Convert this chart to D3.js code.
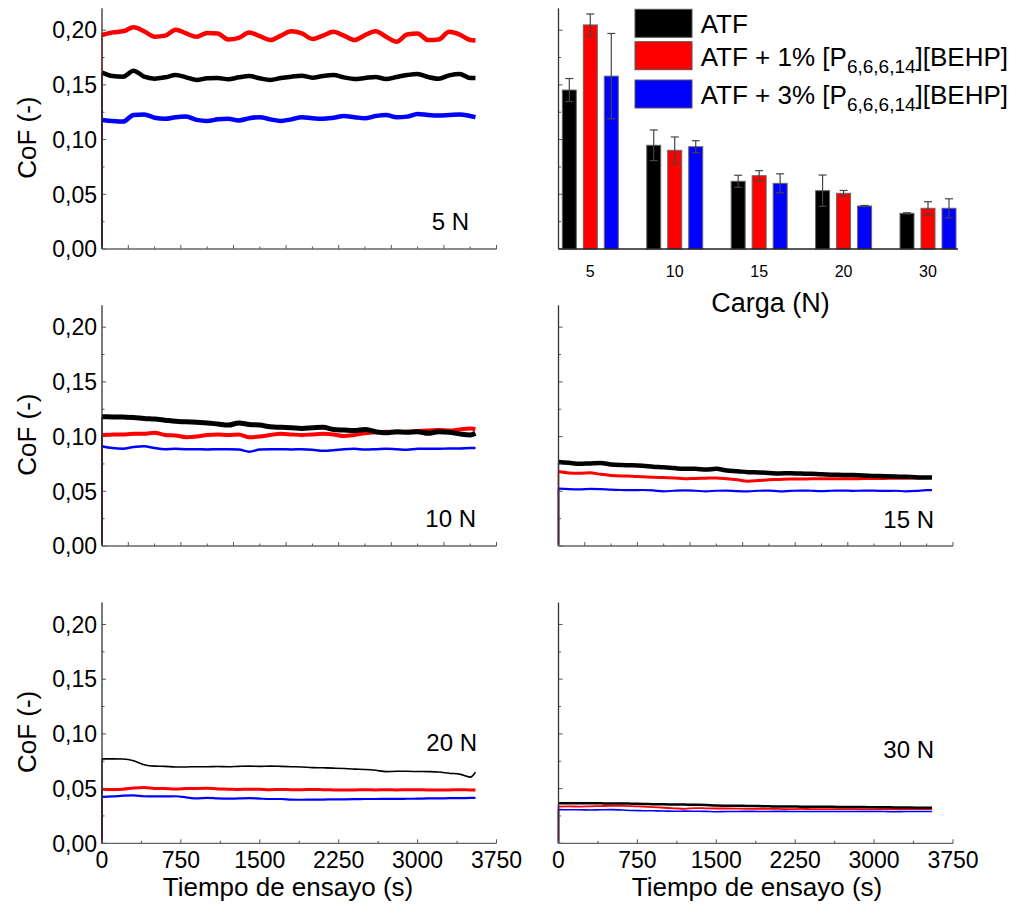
<!DOCTYPE html>
<html>
<head>
<meta charset="utf-8">
<script src="https://cdn.jsdelivr.net/npm/d3@7"></script>
<style>
  html, body { margin: 0; padding: 0; background: #fff; }
  svg text { font-family: "Liberation Sans", Arial, sans-serif; fill: #000; }
</style>
</head>
<body>
<svg id="chart" width="1013" height="916"></svg>
<script>
// Sampling instants of the friction records (s)
const sampleTimes = [0, 100, 200, 300, 400, 500, 600, 700, 800, 900, 1000, 1100, 1200, 1300, 1400, 1500, 1600, 1700, 1800, 1900, 2000, 2100, 2200, 2300, 2400, 2500, 2600, 2700, 2800, 2900, 3000, 3100, 3200, 3300, 3400, 3500, 3550];

// Coefficient of friction vs time, one array per lubricant and load
const cof5N_ATF  = [0.1612, 0.1581, 0.1575, 0.1630, 0.1575, 0.1557, 0.1569, 0.1590, 0.1569, 0.1545, 0.1560, 0.1563, 0.1551, 0.1569, 0.1581, 0.1560, 0.1545, 0.1563, 0.1575, 0.1584, 0.1566, 0.1581, 0.1590, 0.1569, 0.1554, 0.1563, 0.1572, 0.1554, 0.1572, 0.1590, 0.1600, 0.1572, 0.1557, 0.1587, 0.1600, 0.1563, 0.1563];
const cof5N_IL1  = [0.1956, 0.1980, 0.1990, 0.2026, 0.1990, 0.1940, 0.1950, 0.2005, 0.1970, 0.1940, 0.1975, 0.1970, 0.1915, 0.1930, 0.1978, 0.1945, 0.1910, 0.1950, 0.1990, 0.1970, 0.1920, 0.1950, 0.1985, 0.1950, 0.1910, 0.1955, 0.1990, 0.1940, 0.1895, 0.1960, 0.1970, 0.1910, 0.1915, 0.1985, 0.1960, 0.1910, 0.1905];
const cof5N_IL3  = [0.1180, 0.1170, 0.1165, 0.1225, 0.1230, 0.1200, 0.1190, 0.1205, 0.1210, 0.1180, 0.1170, 0.1185, 0.1190, 0.1175, 0.1195, 0.1205, 0.1185, 0.1170, 0.1185, 0.1205, 0.1195, 0.1190, 0.1200, 0.1215, 0.1205, 0.1195, 0.1215, 0.1225, 0.1205, 0.1210, 0.1235, 0.1225, 0.1220, 0.1225, 0.1230, 0.1215, 0.1205];

const cof10N_ATF = [0.1182, 0.1180, 0.1178, 0.1175, 0.1165, 0.1160, 0.1150, 0.1140, 0.1135, 0.1130, 0.1125, 0.1115, 0.1105, 0.1125, 0.1110, 0.1105, 0.1090, 0.1085, 0.1080, 0.1075, 0.1080, 0.1085, 0.1065, 0.1060, 0.1055, 0.1065, 0.1045, 0.1035, 0.1045, 0.1040, 0.1045, 0.1030, 0.1045, 0.1040, 0.1025, 0.1015, 0.1030];
const cof10N_IL1 = [0.1015, 0.1018, 0.1020, 0.1025, 0.1025, 0.1035, 0.1015, 0.1010, 0.0995, 0.1000, 0.1015, 0.1020, 0.1015, 0.1020, 0.0995, 0.1000, 0.1015, 0.1025, 0.1020, 0.1015, 0.1020, 0.1025, 0.1020, 0.1005, 0.1015, 0.1030, 0.1040, 0.1045, 0.1040, 0.1045, 0.1050, 0.1055, 0.1060, 0.1055, 0.1065, 0.1075, 0.1070];
const cof10N_IL3 = [0.0912, 0.0895, 0.0890, 0.0905, 0.0912, 0.0895, 0.0885, 0.0888, 0.0885, 0.0885, 0.0882, 0.0885, 0.0885, 0.0882, 0.0862, 0.0882, 0.0885, 0.0885, 0.0883, 0.0885, 0.0880, 0.0870, 0.0875, 0.0885, 0.0888, 0.0882, 0.0885, 0.0890, 0.0885, 0.0880, 0.0888, 0.0890, 0.0888, 0.0892, 0.0892, 0.0895, 0.0895];

const cof15N_ATF = [0.0768, 0.0760, 0.0752, 0.0755, 0.0758, 0.0745, 0.0740, 0.0738, 0.0733, 0.0725, 0.0720, 0.0712, 0.0705, 0.0705, 0.0700, 0.0705, 0.0690, 0.0683, 0.0675, 0.0672, 0.0668, 0.0663, 0.0665, 0.0662, 0.0660, 0.0655, 0.0652, 0.0650, 0.0648, 0.0645, 0.0640, 0.0638, 0.0635, 0.0632, 0.0628, 0.0625, 0.0625];
const cof15N_IL1 = [0.0680, 0.0668, 0.0665, 0.0670, 0.0655, 0.0645, 0.0640, 0.0638, 0.0632, 0.0628, 0.0625, 0.0622, 0.0615, 0.0618, 0.0620, 0.0622, 0.0615, 0.0605, 0.0592, 0.0598, 0.0605, 0.0608, 0.0612, 0.0612, 0.0615, 0.0615, 0.0615, 0.0614, 0.0615, 0.0616, 0.0617, 0.0618, 0.0620, 0.0620, 0.0622, 0.0625, 0.0625];
const cof15N_IL3 = [0.0525, 0.0520, 0.0518, 0.0522, 0.0520, 0.0515, 0.0512, 0.0510, 0.0512, 0.0508, 0.0500, 0.0505, 0.0508, 0.0505, 0.0500, 0.0505, 0.0507, 0.0502, 0.0500, 0.0505, 0.0507, 0.0500, 0.0503, 0.0507, 0.0505, 0.0502, 0.0505, 0.0507, 0.0504, 0.0506, 0.0506, 0.0503, 0.0505, 0.0500, 0.0503, 0.0510, 0.0510];

const cof20N_ATF = [0.0772, 0.0772, 0.0770, 0.0755, 0.0718, 0.0705, 0.0703, 0.0698, 0.0698, 0.0700, 0.0700, 0.0702, 0.0700, 0.0703, 0.0705, 0.0703, 0.0705, 0.0703, 0.0700, 0.0697, 0.0692, 0.0690, 0.0687, 0.0683, 0.0678, 0.0675, 0.0668, 0.0655, 0.0658, 0.0658, 0.0656, 0.0655, 0.0652, 0.0640, 0.0632, 0.0605, 0.0650];
const cof20N_IL1 = [0.0495, 0.0492, 0.0495, 0.0505, 0.0510, 0.0502, 0.0500, 0.0497, 0.0500, 0.0502, 0.0503, 0.0497, 0.0495, 0.0492, 0.0495, 0.0493, 0.0490, 0.0492, 0.0490, 0.0490, 0.0492, 0.0490, 0.0488, 0.0487, 0.0488, 0.0490, 0.0488, 0.0490, 0.0488, 0.0490, 0.0489, 0.0488, 0.0487, 0.0488, 0.0490, 0.0488, 0.0487];
const cof20N_IL3 = [0.0425, 0.0428, 0.0435, 0.0438, 0.0430, 0.0428, 0.0428, 0.0430, 0.0420, 0.0410, 0.0415, 0.0410, 0.0408, 0.0410, 0.0412, 0.0408, 0.0405, 0.0405, 0.0400, 0.0398, 0.0400, 0.0400, 0.0402, 0.0402, 0.0403, 0.0405, 0.0405, 0.0406, 0.0406, 0.0407, 0.0408, 0.0410, 0.0410, 0.0412, 0.0412, 0.0415, 0.0415];

const cof30N_ATF = [0.0365, 0.0366, 0.0365, 0.0366, 0.0365, 0.0364, 0.0364, 0.0362, 0.0360, 0.0358, 0.0356, 0.0355, 0.0354, 0.0352, 0.0350, 0.0345, 0.0344, 0.0343, 0.0342, 0.0340, 0.0338, 0.0336, 0.0336, 0.0335, 0.0334, 0.0333, 0.0333, 0.0332, 0.0332, 0.0331, 0.0330, 0.0329, 0.0328, 0.0327, 0.0326, 0.0326, 0.0326];
const cof30N_IL1 = [0.0335, 0.0338, 0.0335, 0.0338, 0.0340, 0.0342, 0.0342, 0.0340, 0.0335, 0.0330, 0.0325, 0.0320, 0.0315, 0.0322, 0.0320, 0.0318, 0.0318, 0.0317, 0.0315, 0.0316, 0.0315, 0.0314, 0.0312, 0.0314, 0.0313, 0.0312, 0.0313, 0.0312, 0.0312, 0.0311, 0.0310, 0.0312, 0.0311, 0.0312, 0.0313, 0.0313, 0.0313];
const cof30N_IL3 = [0.0308, 0.0306, 0.0307, 0.0304, 0.0306, 0.0308, 0.0305, 0.0300, 0.0298, 0.0297, 0.0295, 0.0293, 0.0294, 0.0293, 0.0292, 0.0288, 0.0291, 0.0291, 0.0292, 0.0291, 0.0291, 0.0292, 0.0291, 0.0290, 0.0290, 0.0291, 0.0290, 0.0290, 0.0290, 0.0290, 0.0291, 0.0290, 0.0289, 0.0290, 0.0290, 0.0291, 0.0291];

// Mean CoF per load with standard deviation
const loads   = ["5", "10", "15", "20", "30"];
const meanATF = [0.1453, 0.0948, 0.0619, 0.0533, 0.0326];
const meanIL1 = [0.2048, 0.0902, 0.0670, 0.0509, 0.0372];
const meanIL3 = [0.1580, 0.0935, 0.0600, 0.0393, 0.0372];
const sdATF   = [0.0105, 0.0140, 0.0055, 0.0143, 0.0005];
const sdIL1   = [0.0100, 0.0122, 0.0046, 0.0026, 0.0060];
const sdIL3   = [0.0390, 0.0055, 0.0087, 0.0005, 0.0087];

// Axis ticks
const cofTicks       = [0, 0.05, 0.10, 0.15, 0.20];
const cofMinorTicks  = [0, 0.025, 0.05, 0.075, 0.10, 0.125, 0.15, 0.175, 0.20];
const timeTicksFine  = [0, 250, 500, 750, 1000, 1250, 1500, 1750, 2000, 2250, 2500, 2750, 3000, 3250, 3500, 3750];
const timeTicksLabel = [0, 750, 1500, 2250, 3000, 3750];
const timeTicksMinor = [0, 375, 750, 1125, 1500, 1875, 2250, 2625, 3000, 3375, 3750];

const seriesNames = ["ATF", "ATF + 1% [P6,6,6,14][BEHP]", "ATF + 3% [P6,6,6,14][BEHP]"];
const colors = ["#000000", "#ff0000", "#0000ff"];

// ---------------- layout ----------------
const svg = d3.select("#chart");
const colX = [102, 558.5];
const plotW = 394.5;
const rowBottom = [249, 546, 843.3];
const plotH = 240.7;
const cofMax = 0.22;
const timeMax = 3750;

const fmtCoF = v => d3.format(".2f")(v).replace(".", ",");

function makeScales(col, row) {
  const x = d3.scaleLinear().domain([0, timeMax]).range([colX[col], colX[col] + plotW]);
  const y = d3.scaleLinear().domain([0, cofMax]).range([rowBottom[row], rowBottom[row] - plotH]);
  return { x, y };
}

function drawYAxis(g, y, x0, withLabels) {
  // inward ticks, longer at the labelled values
  g.append("g").selectAll("line").data(cofMinorTicks).join("line")
    .attr("x1", x0).attr("x2", d => x0 + (cofTicks.some(t => Math.abs(t - d) < 1e-9) ? 4 : 2.5))
    .attr("y1", d => y(d)).attr("y2", d => y(d))
    .attr("stroke", "#555").attr("stroke-width", 1);
  g.append("line")
    .attr("x1", x0).attr("x2", x0)
    .attr("y1", y(0)).attr("y2", y(cofMax))
    .attr("stroke", "#333").attr("stroke-width", 1.3);
  if (withLabels) {
    g.append("g").selectAll("text").data(cofTicks).join("text")
      .attr("x", x0 - 5).attr("y", d => y(d))
      .attr("dy", "0.36em")
      .attr("text-anchor", "end")
      .style("font-size", "23px")
      .text(fmtCoF);
  }
}

function drawTimeAxis(g, x, y0, labelled) {
  const ticks = labelled ? timeTicksMinor : timeTicksFine;
  g.append("line")
    .attr("x1", x(0)).attr("x2", x(timeMax))
    .attr("y1", y0).attr("y2", y0)
    .attr("stroke", "#666").attr("stroke-width", 1.3);
  g.append("g").selectAll("line").data(ticks).join("line")
    .attr("x1", d => x(d)).attr("x2", d => x(d))
    .attr("y1", y0).attr("y2", (d, i) => y0 - (labelled ? (timeTicksLabel.includes(d) ? 4 : 2.5) : (i % 2 === 0 ? 2.5 : 4)))
    .attr("stroke", "#555").attr("stroke-width", 1);
  if (labelled) {
    g.append("g").selectAll("text").data(timeTicksLabel).join("text")
      .attr("x", d => x(d)).attr("y", y0 + 25)
      .attr("text-anchor", "middle")
      .style("font-size", "23px")
      .text(d => d);
  }
}

// Time-series panels
const panels = [
  { col: 0, row: 0, label: "5 N",  labelX: 469, labelY: 230,   data: [cof5N_ATF,  cof5N_IL1,  cof5N_IL3],  widths: [4.5, 4.5, 4.5] },
  { col: 0, row: 1, label: "10 N", labelX: 476, labelY: 527.3, data: [cof10N_ATF, cof10N_IL1, cof10N_IL3], widths: [5, 4, 2.5] },
  { col: 1, row: 1, label: "15 N", labelX: 934, labelY: 528.3, data: [cof15N_ATF, cof15N_IL1, cof15N_IL3], widths: [4.5, 3, 2.2] },
  { col: 0, row: 2, label: "20 N", labelX: 477, labelY: 751,   data: [cof20N_ATF, cof20N_IL1, cof20N_IL3], widths: [1.6, 3, 2.2] },
  { col: 1, row: 2, label: "30 N", labelX: 934, labelY: 758.3, data: [cof30N_ATF, cof30N_IL1, cof30N_IL3], widths: [2.5, 1.8, 1.6] }
];

// draw order: red, blue, then black on top
const drawOrder = [1, 2, 0];

panels.forEach(p => {
  const { x, y } = makeScales(p.col, p.row);
  const g = svg.append("g");
  const line = d3.line()
    .x(d => x(d.t)).y(d => y(d.v))
    .curve(d3.curveMonotoneX);

  // run-in: each record rises from zero at t = 0
  drawOrder.forEach(si => {
    g.append("line")
      .attr("x1", x(0)).attr("x2", x(0))
      .attr("y1", y(0)).attr("y2", y(p.data[si][0]))
      .attr("stroke", colors[si]).attr("stroke-width", 1.3);
  });
  g.append("line")
    .attr("x1", x(0)).attr("x2", x(0))
    .attr("y1", y(0)).attr("y2", y(d3.min(p.data, s => s[0])))
    .attr("stroke", "#5a0f33").attr("stroke-width", 1.4);

  drawOrder.forEach(si => {
    const pts = sampleTimes.map((t, i) => ({ t, v: p.data[si][i] }));
    g.append("path")
      .attr("d", line(pts))
      .attr("fill", "none")
      .attr("stroke", colors[si])
      .attr("stroke-width", p.widths[si])
      .attr("stroke-linejoin", "round");
  });

  drawYAxis(g, y, colX[p.col], p.col === 0);
  drawTimeAxis(g, x, rowBottom[p.row], p.row === 2);

  g.append("text")
    .attr("x", p.labelX).attr("y", p.labelY)
    .attr("text-anchor", "end")
    .style("font-size", "24px")
    .text(p.label);
});

// CoF axis titles
rowBottom.forEach(b => {
  svg.append("text")
    .attr("transform", `translate(35.5,${b - plotH / 2 + 9}) rotate(-90)`)
    .attr("text-anchor", "middle")
    .style("font-size", "26px")
    .text("CoF (-)");
});

// Time axis titles
[[288, 896], [757, 896]].forEach(([cx, cy]) => {
  svg.append("text")
    .attr("x", cx).attr("y", cy)
    .attr("text-anchor", "middle")
    .style("font-size", "26px")
    .text("Tiempo de ensayo (s)");
});

// ---------------- bar chart: mean CoF per load ----------------
{
  const x0 = colX[1];
  const yb = d3.scaleLinear().domain([0, cofMax]).range([rowBottom[0], rowBottom[0] - plotH]);
  const xb = d3.scalePoint().domain(loads).range([590.3, 928]);
  const barW = 14, off = 21;
  const means = [meanATF, meanIL1, meanIL3];
  const sds = [sdATF, sdIL1, sdIL3];
  const g = svg.append("g");

  means.forEach((arr, si) => {
    const rows = loads.map((l, i) => ({ l, v: arr[i], e: sds[si][i] }));
    const cx = d => xb(d.l) + (si - 1) * off;
    g.append("g").selectAll("rect").data(rows).join("rect")
      .attr("x", d => cx(d) - barW / 2)
      .attr("y", d => yb(d.v))
      .attr("width", barW)
      .attr("height", d => yb(0) - yb(d.v))
      .attr("fill", colors[si])
      .attr("stroke", "#666").attr("stroke-width", 1);
    const eb = g.append("g").attr("stroke", "#444").attr("stroke-width", 1.2);
    eb.selectAll("line.v").data(rows).join("line").attr("class", "v")
      .attr("x1", cx).attr("x2", cx)
      .attr("y1", d => yb(d.v + d.e)).attr("y2", d => yb(d.v - d.e));
    eb.selectAll("line.t").data(rows).join("line").attr("class", "t")
      .attr("x1", d => cx(d) - 4).attr("x2", d => cx(d) + 4)
      .attr("y1", d => yb(d.v + d.e)).attr("y2", d => yb(d.v + d.e));
    eb.selectAll("line.b").data(rows).join("line").attr("class", "b")
      .attr("x1", d => cx(d) - 4).attr("x2", d => cx(d) + 4)
      .attr("y1", d => yb(d.v - d.e)).attr("y2", d => yb(d.v - d.e));
  });

  drawYAxis(g, yb, x0, false);
  g.append("line")
    .attr("x1", x0).attr("x2", 958)
    .attr("y1", rowBottom[0]).attr("y2", rowBottom[0])
    .attr("stroke", "#222").attr("stroke-width", 1.3);
  g.append("g").selectAll("text").data(loads).join("text")
    .attr("x", d => xb(d)).attr("y", 277)
    .attr("text-anchor", "middle")
    .style("font-size", "16px")
    .text(d => d);
  g.append("text")
    .attr("x", 770.5).attr("y", 311.7)
    .attr("text-anchor", "middle")
    .style("font-size", "27px")
    .text("Carga (N)");

  // legend
  const legY = [9.3, 41.7, 80];
  const leg = g.append("g");
  seriesNames.forEach((name, i) => {
    leg.append("rect")
      .attr("x", 635).attr("y", legY[i])
      .attr("width", 57).attr("height", 28)
      .attr("fill", colors[i]).attr("stroke", "#555").attr("stroke-width", 1);
    const t = leg.append("text")
      .attr("x", 700.7).attr("y", legY[i] + 24)
      .style("font-size", "26px");
    const m = name.match(/^(.*\[P)([\d,]+)(\].*)$/);
    if (m) {
      t.append("tspan").text(m[1]);
      t.append("tspan").attr("dy", 7).style("font-size", "19px").text(m[2]);
      t.append("tspan").attr("dy", -7).text(m[3]);
    } else {
      t.text(name);
    }
  });
}
</script>
</body>
</html>
